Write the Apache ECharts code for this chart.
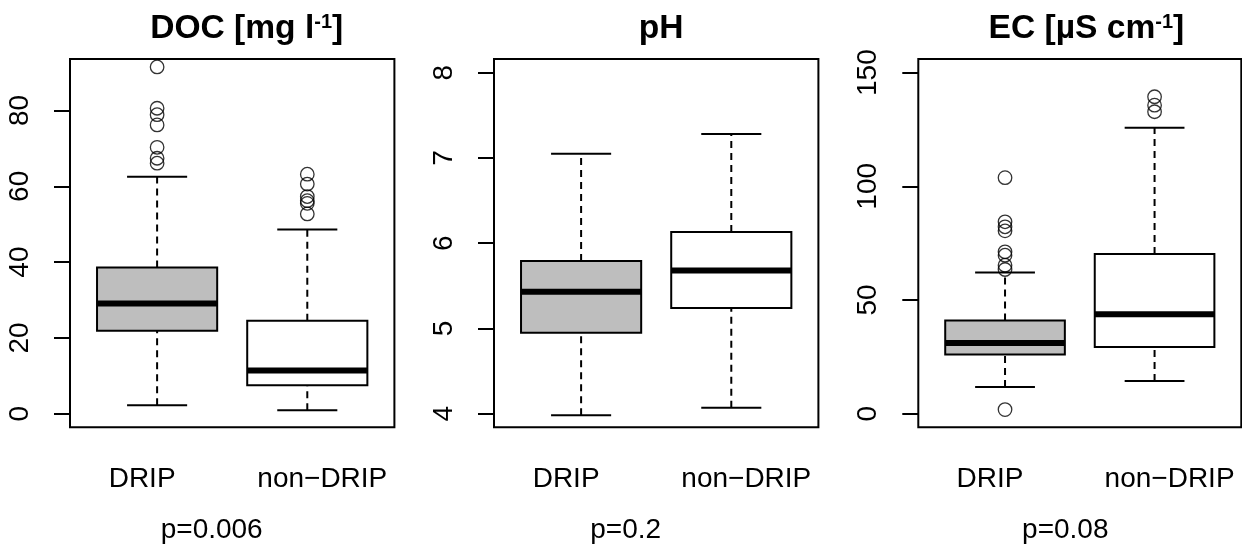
<!DOCTYPE html>
<html>
<head>
<meta charset="utf-8">
<script src="https://cdn.jsdelivr.net/npm/echarts@6/dist/echarts.min.js"></script>
<style>
  html, body { margin: 0; padding: 0; background: #fff; }
  #chart { width: 1242px; height: 545px; }
</style>
</head>
<body>
<div id="chart"></div>
<script>
// groups on the x axis
const groups = ['DRIP', 'non\u2212DRIP']

// box stats per group: [lower whisker, Q1, median, Q3, upper whisker]
const docStats = [[2.2, 21.9, 29.1, 38.6, 62.5], [0.9, 7.5, 11.4, 24.5, 48.6]]
const phStats = [[3.98, 4.95, 5.43, 5.79, 7.05], [4.07, 5.24, 5.68, 6.13, 7.28]]
const ecStats = [[11.7, 26.0, 31.1, 41.0, 62.1], [14.4, 29.3, 43.7, 70.2, 125.8]]

// outliers per group
const docOut = [[91.5, 80.6, 78.9, 76.2, 70.3, 67.4, 66.1], [63.2, 60.6, 57.3, 56.2, 55.5, 52.7]]
const phOut = [[], []]
const ecOut = [[103.8, 84.4, 82.2, 80.4, 71.2, 69.7, 65.3, 63.4, 1.8], [139.4, 135.7, 132.8]]

// y tick labels
const docTicks = [0, 20, 40, 60, 80]
const phTicks = [4, 5, 6, 7, 8]
const ecTicks = [0, 50, 100, 150]

const pValues = ['p=0.006', 'p=0.2', 'p=0.08']

const font = 'Liberation Sans, Arial, Helvetica, sans-serif'
const boxFill = ['#bebebe', '#ffffff']

const panels = [
  { title: 'DOC [mg l{s|-1}]', titleX: 241.7, left: 70, width: 324.4, ylim: [-3.6, 93.6], ticks: docTicks, stats: docStats, out: docOut, pShift: 41 },
  { title: 'pH', titleX: 656.2, left: 494, width: 324.4, ylim: [3.84, 8.16], ticks: phTicks, stats: phStats, out: phOut, pShift: 61 },
  { title: 'EC [\u00b5S cm{s|-1}]', titleX: 1081.4, left: 918.3, width: 323, ylim: [-6, 156], ticks: ecTicks, stats: ecStats, out: ecOut, pShift: 29 }
]

// R style box: dashed whiskers, staples, filled box, thick median
function renderBox(params, api) {
  const x = api.value(0)
  const lo = api.coord([x, api.value(1)])
  const q1 = api.coord([x, api.value(2)])
  const md = api.coord([x, api.value(3)])
  const q3 = api.coord([x, api.value(4)])
  const hi = api.coord([x, api.value(5)])
  const bl = api.coord([x - 0.4, 0])[0]
  const br = api.coord([x + 0.4, 0])[0]
  const cl = api.coord([x - 0.2, 0])[0]
  const cr = api.coord([x + 0.2, 0])[0]
  const line = { stroke: '#000', lineWidth: 2 }
  return {
    type: 'group',
    children: [
      { type: 'line', shape: { x1: lo[0], y1: lo[1], x2: q1[0], y2: q1[1] }, style: { ...line, lineDash: [7, 5] } },
      { type: 'line', shape: { x1: q3[0], y1: q3[1], x2: hi[0], y2: hi[1] }, style: { ...line, lineDash: [7, 5] } },
      { type: 'line', shape: { x1: cl, y1: lo[1], x2: cr, y2: lo[1] }, style: line },
      { type: 'line', shape: { x1: cl, y1: hi[1], x2: cr, y2: hi[1] }, style: line },
      { type: 'rect', shape: { x: bl, y: q3[1], width: br - bl, height: q1[1] - q3[1] }, style: { ...line, fill: boxFill[params.dataIndex] } },
      { type: 'line', shape: { x1: bl, y1: md[1], x2: br, y2: md[1] }, style: { stroke: '#000', lineWidth: 6 } }
    ]
  }
}

const option = {
  backgroundColor: '#fff',
  animation: false,
  title: [],
  grid: [],
  xAxis: [],
  yAxis: [],
  series: []
}

panels.forEach((p, i) => {
  option.title.push({
    text: p.title,
    left: p.titleX,
    top: 7,
    textAlign: 'center',
    textStyle: {
      fontFamily: font, fontSize: 33.6, fontWeight: 'bold', color: '#000',
      rich: { s: { fontFamily: font, fontSize: 20, fontWeight: 'bold', color: '#000', verticalAlign: 'top' } }
    }
  })
  option.grid.push({
    left: p.left, top: 59, width: p.width, height: 368.3,
    show: true, borderColor: '#000', borderWidth: 2, backgroundColor: 'transparent',
    outerBoundsMode: 'none'
  })
  option.xAxis.push({
    type: 'value', gridIndex: i, min: 0.42, max: 2.58,
    axisLine: { show: false }, axisTick: { show: false }, splitLine: { show: false },
    axisLabel: {
      customValues: [1, 2], margin: 38,
      formatter: v => (v === 1 ? '{l|' : '{r|') + groups[v - 1] + '}',
      rich: {
        l: { fontFamily: font, fontSize: 28, color: '#000', padding: [0, 30, 0, 0] },
        r: { fontFamily: font, fontSize: 28, color: '#000', padding: [0, 0, 0, 30] }
      }
    },
    name: pValues[i], nameLocation: 'middle', nameGap: 89,
    nameTextStyle: { fontFamily: font, fontSize: 28, color: '#000', padding: [0, p.pShift, 0, 0] }
  })
  option.yAxis.push({
    type: 'value', gridIndex: i, min: p.ylim[0], max: p.ylim[1],
    axisLine: { show: false }, splitLine: { show: false },
    axisTick: { show: true, length: 16, customValues: p.ticks, lineStyle: { color: '#000', width: 2 } },
    axisLabel: { customValues: p.ticks, rotate: 90, margin: 36, fontFamily: font, fontSize: 28, color: '#000' }
  })
  option.series.push({
    type: 'custom', xAxisIndex: i, yAxisIndex: i,
    renderItem: renderBox,
    data: p.stats.map((s, g) => [g + 1, ...s])
  })
  option.series.push({
    type: 'scatter', xAxisIndex: i, yAxisIndex: i,
    symbol: 'circle', symbolSize: 13.5,
    itemStyle: { color: 'rgba(0,0,0,0)', borderColor: '#000', borderWidth: 1.3 },
    data: p.out.flatMap((vals, g) => vals.map(v => [g + 1, v]))
  })
})

const chart = echarts.init(document.getElementById('chart'))
chart.setOption(option)
window.addEventListener('resize', () => chart.resize())
</script>
</body>
</html>
